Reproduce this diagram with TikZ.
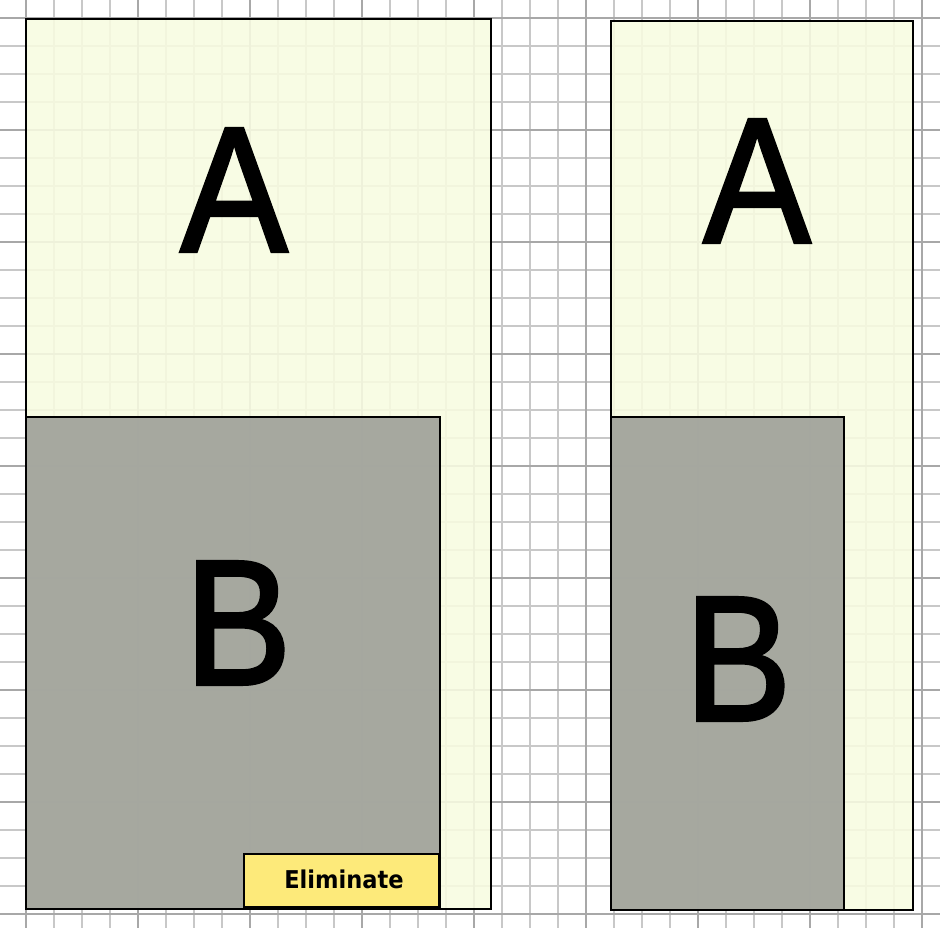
\documentclass[tikz,border=0pt]{standalone}
\usepackage{fontspec}
\setmainfont{Liberation Sans}
\newfontfamily\letterfont[FakeBold=2]{Liberation Sans}
\newfontfamily\tagfont{DejaVu Sans}
\definecolor{paleA}{RGB}{248,252,225}
\definecolor{greyB}{RGB}{162,164,156}
\definecolor{tagyellow}{RGB}{253,234,122}
\definecolor{gridminor}{RGB}{200,200,200}
\definecolor{gridmajor}{RGB}{168,168,168}
\tikzset{
  letter/.style={inner sep=0pt,xscale=0.9,font=\letterfont\fontsize{178}{178}\selectfont},
  zoneA/.style={draw=black,line width=2.2pt,fill=paleA,fill opacity=0.88},
  zoneB/.style={draw=black,line width=2.2pt,fill=greyB,fill opacity=0.95},
  tag/.style={draw=black,line width=2pt,fill=tagyellow}
}
\begin{document}
\begin{tikzpicture}[x=1pt,y=-1pt]
        \useasboundingbox (0,0) rectangle (940,928);
        \fill[white] (0,0) rectangle (940,928);
        % sheet grid
        \foreach \gx in {-2,26,...,942}
            \draw[gridminor,line width=1.2pt] (\gx,0) -- (\gx,928);
        \foreach \gy in {-10,18,...,942}
            \draw[gridminor,line width=1.2pt] (0,\gy) -- (940,\gy);
        \foreach \gx in {26,138,...,922}
            \draw[gridmajor,line width=2pt] (\gx,0) -- (\gx,928);
        \foreach \gy in {18,130,...,914}
            \draw[gridmajor,line width=2pt] (0,\gy) -- (940,\gy);
        % left layout
        \draw[zoneA] (26,19) rectangle (491,909);
        \draw[zoneB] (26,417) rectangle (440,909);
        \draw[tag] (244,854) rectangle (439,907);
        % right layout
        \draw[zoneA] (611,21) rectangle (913,910);
        \draw[zoneB] (611,417) rectangle (844,910);
        \node[letter] (leftA) at (234,190) {A};
        \node[letter] (leftB) at (238,623) {B};
        \node[letter] (rightA) at (757,181) {A};
        \node[letter] (rightB) at (738,659) {B};
        \node[xscale=0.92,font=\tagfont\bfseries\fontsize{24.5}{24.5}\selectfont] (elim) at (344,879) {Eliminate};
    \end{tikzpicture}
\end{document}
